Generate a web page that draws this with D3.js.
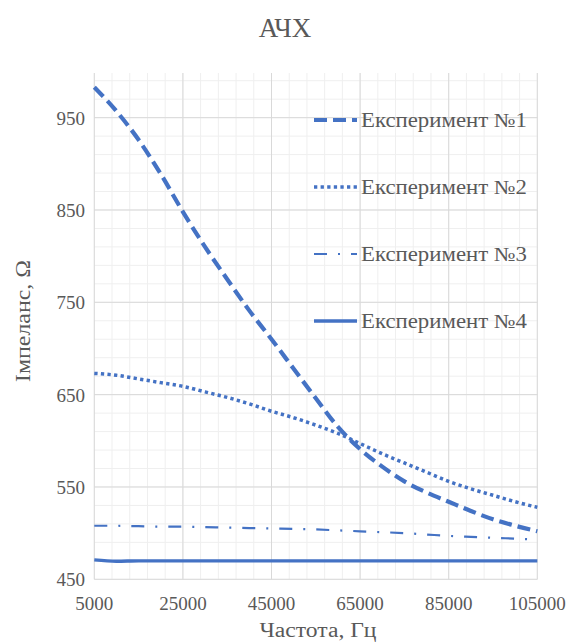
<!DOCTYPE html>
<html>
<head>
<meta charset="utf-8">
<script src="https://cdn.jsdelivr.net/npm/d3@7"></script>
<style>
  body { margin: 0; background: #fff; }
</style>
</head>
<body>
<svg id="chart" width="568" height="642" font-family="'Liberation Serif', 'DejaVu Serif', serif"></svg>
<script>
const svg = d3.select("#chart"),
    width = +svg.attr("width"),
    height = +svg.attr("height");

// frequency, Hz
const freq = [5000, 10000, 15000, 20000, 25000, 30000, 35000, 40000, 45000, 50000, 55000,
    60000, 65000, 70000, 75000, 80000, 85000, 90000, 95000, 100000, 105000];
// impedance, Ohm
const exp1 = [983, 957, 926, 889, 848, 810, 775, 741, 710, 678, 646,
    615, 591, 572, 556, 544, 534, 524, 515, 508, 502];
const exp2 = [673, 671, 667, 663, 659, 653, 647, 640, 632, 625, 617,
    608, 597, 586, 576, 566, 556, 548, 541, 534, 528];
const exp3 = [508, 508, 507.5, 507, 507, 506.5, 506, 505.5, 505, 504.5, 504,
    503, 502, 501, 500, 498.5, 497, 496, 495, 494, 493];
const exp4 = [471, 469.5, 470, 470, 470, 470, 470, 470, 470, 470, 470,
    470, 470, 470, 470, 470, 470, 470, 470, 470, 470];

const seriesNames = ["Експеримент №1", "Експеримент №2", "Експеримент №3", "Експеримент №4"];
const xTicks = [5000, 25000, 45000, 65000, 85000, 105000];
const yTicks = [450, 550, 650, 750, 850, 950];

const color = "#4472C4";
const textColor = "#595959";
const dashes = ["13,6", "3.3,3.3", "13,11,2,11", null];
const widths = [4.2, 3.5, 2.2, 3.4];

const plotLeft = 94.3, plotRight = 537.3, plotTop = 71.5, plotBottom = 579.3;

let x = d3.scaleLinear().domain([5000, 105000]).range([plotLeft, plotRight]);
let y = d3.scaleLinear().domain([450, 1000]).range([plotBottom, plotTop]);

// minor grid
let minorX = d3.range(5000, 105001, 4000);
let minorY = d3.range(450, 1001, 20);

let grid = svg.append("g");
grid.selectAll(".mx")
    .data(minorX)
    .enter()
    .append("line")
    .attr("x1", d => x(d)).attr("x2", d => x(d))
    .attr("y1", plotTop + 1.5).attr("y2", plotBottom)
    .style("stroke", "#efefef")
    .style("stroke-width", 1);
grid.selectAll(".my")
    .data(minorY)
    .enter()
    .append("line")
    .attr("y1", d => y(d)).attr("y2", d => y(d))
    .attr("x1", plotLeft).attr("x2", plotRight)
    .style("stroke", "#efefef")
    .style("stroke-width", 1);

// major grid
grid.selectAll(".Mx")
    .data(xTicks)
    .enter()
    .append("line")
    .attr("x1", d => x(d)).attr("x2", d => x(d))
    .attr("y1", plotTop + 1.5).attr("y2", plotBottom)
    .style("stroke", "#d9d9d9")
    .style("stroke-width", 1);
grid.selectAll(".My")
    .data(yTicks)
    .enter()
    .append("line")
    .attr("y1", d => y(d)).attr("y2", d => y(d))
    .attr("x1", plotLeft).attr("x2", plotRight)
    .style("stroke", "#d9d9d9")
    .style("stroke-width", 1);

// tick labels
svg.append("g")
    .selectAll("text")
    .data(xTicks)
    .enter()
    .append("text")
    .attr("x", d => x(d))
    .attr("y", 610)
    .attr("text-anchor", "middle")
    .attr("fill", textColor)
    .style("font-size", "19px")
    .text(d => d);

svg.append("g")
    .selectAll("text")
    .data(yTicks)
    .enter()
    .append("text")
    .attr("x", 85)
    .attr("y", d => y(d) + 7)
    .attr("text-anchor", "end")
    .attr("fill", textColor)
    .style("font-size", "19px")
    .text(d => d);

// lines
const allSeries = [exp1, exp2, exp3, exp4];
let line = d3.line()
    .x((d, i) => x(freq[i]))
    .y(d => y(d))
    .curve(d3.curveMonotoneX);

svg.append("g")
    .selectAll("path")
    .data(allSeries)
    .enter()
    .append("path")
    .attr("d", d => line(d))
    .attr("fill", "none")
    .style("stroke", color)
    .style("stroke-width", (d, i) => widths[i])
    .style("stroke-dasharray", (d, i) => dashes[i]);

// legend
let legend = svg.append("g");
seriesNames.forEach(function (name, i) {
    let ly = 120 + i * 67;
    legend.append("line")
        .attr("x1", 314).attr("x2", 357)
        .attr("y1", ly).attr("y2", ly)
        .style("stroke", color)
        .style("stroke-width", widths[i])
        .style("stroke-dasharray", dashes[i]);
    legend.append("text")
        .attr("x", 361)
        .attr("y", ly + 6.5)
        .attr("fill", textColor)
        .attr("textLength", 166)
        .attr("lengthAdjust", "spacingAndGlyphs")
        .style("font-size", "20px")
        .text(name);
});

// titles
svg.append("text")
    .attr("x", 285)
    .attr("y", 37)
    .attr("text-anchor", "middle")
    .attr("fill", textColor)
    .style("font-size", "27px")
    .text("АЧХ");

svg.append("text")
    .attr("x", 318)
    .attr("y", 637)
    .attr("text-anchor", "middle")
    .attr("fill", textColor)
    .attr("textLength", 117)
    .attr("lengthAdjust", "spacingAndGlyphs")
    .style("font-size", "20px")
    .text("Частота, Гц");

svg.append("text")
    .attr("transform", "translate(30,321) rotate(-90)")
    .attr("text-anchor", "middle")
    .attr("fill", textColor)
    .attr("textLength", 122)
    .attr("lengthAdjust", "spacingAndGlyphs")
    .style("font-size", "20px")
    .text("Імпеланс, Ω");
</script>
</body>
</html>
